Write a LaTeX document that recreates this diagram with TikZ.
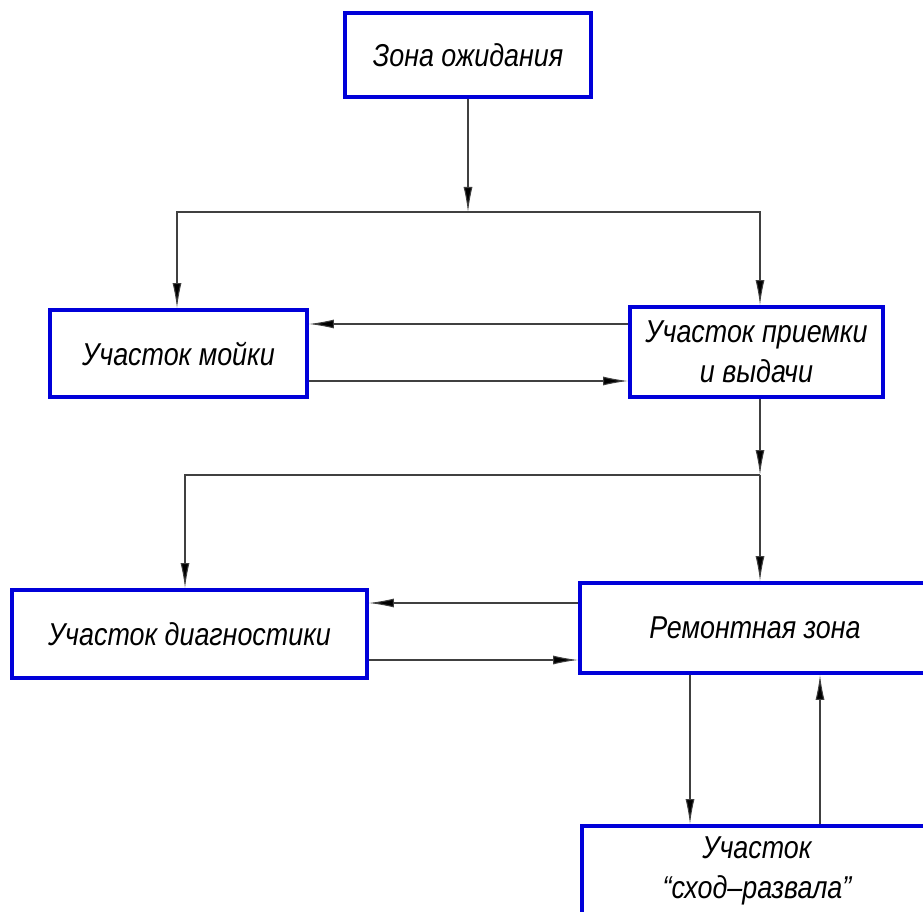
\documentclass[tikz,border=0pt]{standalone}
\usepackage{fontspec}
\setmainfont{Liberation Sans}[ItalicFeatures={FakeStretch=0.85}]
\usepackage{xcolor}
\usetikzlibrary{arrows.meta}

\begin{document}
\begin{tikzpicture}[x=0.2mm,y=-0.2mm]
\tikzstyle{zone} = [draw=blue!85!black,line width=2.2pt,fill=white,align=center,
  font=\fontsize{18}{23}\selectfont\itshape,inner sep=0pt];
\tikzstyle{link} = [draw=black!75,line width=0.6pt,-{Latex[length=5mm,width=1.8mm,fill=black]}];
\useasboundingbox (0,0) rectangle (923,912);
\clip (0,0) rectangle (923,912);
\node [zone,minimum width=49.2mm,minimum height=16.8mm] (wait) at (468,55) {Зона ожидания};
\node [zone,minimum width=51.4mm,minimum height=17.4mm] (wash) at (178.5,353.5) {Участок мойки};
\node [zone,minimum width=50.6mm,minimum height=18mm] (reception) at (756.5,352) {Участок приемки\\и выдачи};
\node [zone,minimum width=71mm,minimum height=17.6mm] (diag) at (189.5,634) {Участок диагностики};
\node [zone,minimum width=70mm,minimum height=18mm] (repair) at (755,628) {Ремонтная зона};
\node [zone,minimum width=70mm,minimum height=18mm] (wheel) at (757,871) {Участок\\“сход–развала”};
\coordinate (split1) at (468,212);
\coordinate (split2) at (760,475);
\draw [link] (wait) -- (split1);
\draw [link] (split1) -| (wash.north -| 177,0);
\draw [link] (split1) -| (reception.north -| 760,0);
\draw [link] (reception.west |- 0,324) -- (wash.east |- 0,324);
\draw [link] (wash.east |- 0,381) -- (reception.west |- 0,381);
\draw [link] (reception.south -| split2) -- (split2);
\draw [link] (split2) -| (diag.north -| 185,0);
\draw [link] (split2) -- (split2 |- repair.north);
\draw [link] (repair.west |- 0,603) -- (diag.east |- 0,603);
\draw [link] (diag.east |- 0,660) -- (repair.west |- 0,660);
\draw [link] (repair.south -| 690,0) -- (wheel.north -| 690,0);
\draw [link] (wheel.north -| 820,0) -- (repair.south -| 820,0);
\end{tikzpicture}
\end{document}
